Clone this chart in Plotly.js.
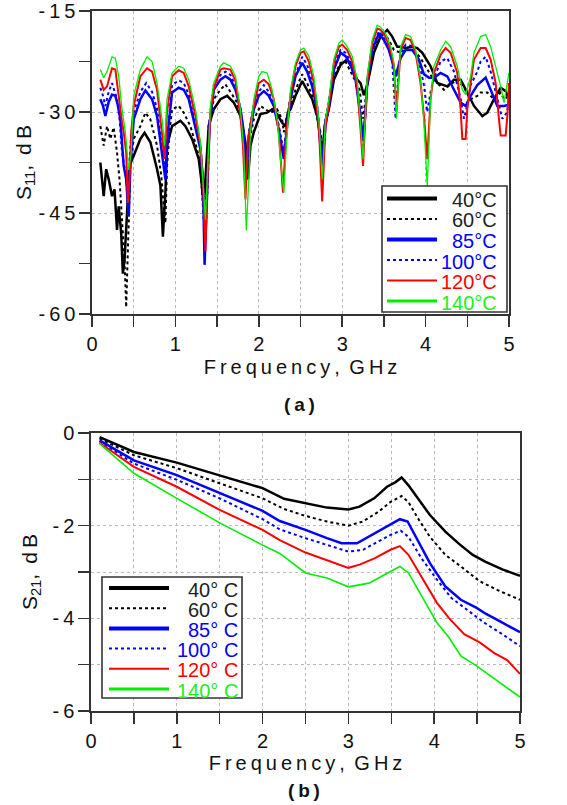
<!DOCTYPE html>
<html><head><meta charset="utf-8">
<script src="https://cdn.plot.ly/plotly-3.0.1.min.js"></script>
<style>html,body{margin:0;padding:0;background:#fff}#chart{width:567px;height:805px}</style>
</head><body><div id="chart"></div>
<script>
// ---------- DATA ----------
const temps = ['40°C','60°C','85°C','100°C','120°C','140°C'];
const tempsB = ['40° C','60° C','85° C','100° C','120° C','140° C'];

// S11 (dB) vs frequency (GHz), [f, dB] pairs
const s11_40 = [[0.10,-37.5],[0.12,-40],[0.14,-42.5],[0.17,-38.5],[0.20,-40],[0.24,-42.5],[0.27,-41.5],[0.30,-47.5],[0.32,-44],[0.35,-48],[0.37,-54],[0.39,-52],[0.42,-44],[0.45,-38],[0.50,-36.5],[0.58,-34],[0.63,-33.1],[0.70,-34.5],[0.78,-38.5],[0.82,-40.9],[0.85,-48.5],[0.88,-42],[0.90,-35],[0.96,-32.1],[1.06,-31.3],[1.12,-32.1],[1.20,-34],[1.28,-37],[1.31,-40],[1.34,-44],[1.37,-38],[1.40,-32],[1.46,-29.6],[1.54,-28.1],[1.62,-27.6],[1.70,-28.6],[1.78,-30.6],[1.84,-34.5],[1.87,-40],[1.90,-35],[1.94,-33],[2.02,-30.3],[2.10,-30.1],[2.16,-29.6],[2.22,-30.3],[2.28,-31.6],[2.32,-32.1],[2.35,-30],[2.38,-29.6],[2.44,-27.6],[2.52,-25.4],[2.58,-26.7],[2.64,-28.1],[2.70,-30.6],[2.73,-33],[2.76,-37],[2.79,-32],[2.84,-29.6],[2.90,-25.2],[2.98,-23],[3.06,-22.2],[3.12,-23.5],[3.18,-25.2],[3.22,-25.7],[3.26,-27.5],[3.30,-26],[3.38,-21.2],[3.46,-18.8],[3.54,-17.8],[3.60,-18.8],[3.66,-20.3],[3.70,-20.3],[3.76,-20.5],[3.84,-20.3],[3.90,-20.5],[3.96,-21.2],[4.06,-23.2],[4.14,-25.7],[4.20,-25.9],[4.26,-26.2],[4.34,-25.2],[4.42,-25.2],[4.50,-27.1],[4.58,-29.1],[4.68,-30.6],[4.74,-30.1],[4.82,-28.1],[4.90,-26.4],[4.96,-26.9],[5.00,-28.1]];
const s11_60 = [[0.10,-32.1],[0.14,-35],[0.18,-32.1],[0.22,-34],[0.26,-32.3],[0.30,-36],[0.33,-40],[0.36,-46],[0.39,-52],[0.41,-59],[0.43,-50],[0.46,-38],[0.50,-34],[0.58,-32.1],[0.64,-30.1],[0.70,-31.1],[0.78,-35],[0.83,-39.4],[0.86,-44],[0.88,-46.5],[0.90,-38],[0.93,-33],[0.96,-29.6],[1.04,-29.1],[1.10,-30.1],[1.18,-32.1],[1.26,-35.5],[1.30,-38],[1.34,-46],[1.37,-40],[1.40,-32],[1.46,-28.1],[1.54,-26.7],[1.60,-25.9],[1.68,-27.4],[1.74,-28.6],[1.80,-31.6],[1.83,-35],[1.86,-39],[1.89,-34],[1.94,-31.1],[2.02,-29.1],[2.08,-29.6],[2.14,-30.1],[2.22,-29.6],[2.28,-31.1],[2.30,-33],[2.33,-31],[2.38,-29.1],[2.44,-26.7],[2.52,-24.4],[2.58,-25.7],[2.64,-27.6],[2.70,-30.6],[2.74,-33],[2.77,-36],[2.80,-31],[2.84,-29.1],[2.90,-24.7],[2.98,-22.7],[3.04,-22.5],[3.10,-24],[3.16,-25.5],[3.21,-26.7],[3.25,-31],[3.28,-28],[3.30,-26.2],[3.36,-21.7],[3.44,-18.8],[3.50,-18.3],[3.56,-19.3],[3.62,-20.8],[3.70,-21.2],[3.76,-20.8],[3.86,-20.8],[3.94,-22],[4.02,-23.7],[4.08,-24.9],[4.14,-25.7],[4.22,-26.7],[4.30,-25.9],[4.38,-25.2],[4.46,-26.4],[4.54,-28.1],[4.62,-27.6],[4.66,-27.1],[4.74,-27.1],[4.82,-28.1],[4.90,-27.1],[4.94,-28.1],[5.00,-27.6]];
const s11_85 = [[0.10,-28.1],[0.13,-29],[0.16,-30.6],[0.20,-28.5],[0.24,-27.4],[0.28,-27.6],[0.31,-29],[0.34,-31.1],[0.38,-38],[0.41,-40],[0.44,-45.5],[0.46,-38],[0.50,-31.1],[0.58,-28.1],[0.64,-26.8],[0.72,-28.1],[0.78,-30.6],[0.84,-36],[0.88,-40],[0.91,-33],[0.96,-27.1],[1.04,-26.4],[1.10,-26.7],[1.16,-28.1],[1.24,-32.1],[1.30,-35.5],[1.33,-40],[1.35,-52.7],[1.38,-42],[1.41,-32],[1.46,-26.7],[1.54,-25.2],[1.60,-24.7],[1.66,-25.2],[1.72,-26.7],[1.78,-29.6],[1.82,-33],[1.85,-39],[1.88,-34],[1.94,-29.6],[2.00,-27.6],[2.06,-26.9],[2.12,-27.6],[2.18,-29.1],[2.24,-32.6],[2.30,-37],[2.34,-32],[2.38,-28.1],[2.44,-24.7],[2.52,-22.7],[2.58,-24],[2.64,-26.2],[2.70,-29.6],[2.76,-38],[2.80,-32],[2.84,-29.1],[2.90,-23.7],[2.98,-21.2],[3.04,-21.7],[3.10,-23],[3.16,-25.2],[3.21,-29.6],[3.25,-34],[3.28,-30],[3.30,-25.7],[3.36,-20.8],[3.44,-18.3],[3.50,-19.3],[3.56,-20.8],[3.60,-22.5],[3.64,-24.7],[3.68,-22.7],[3.70,-22],[3.76,-20.8],[3.84,-20.8],[3.92,-22.2],[3.98,-24.4],[4.04,-24.9],[4.10,-24.9],[4.18,-24.2],[4.26,-24.7],[4.34,-26.7],[4.42,-28.6],[4.48,-29.1],[4.54,-27.6],[4.62,-26],[4.66,-25.5],[4.72,-24.9],[4.78,-26.7],[4.86,-29.1],[4.94,-29.1],[5.00,-28.9]];
const s11_100 = [[0.10,-26.4],[0.13,-27.5],[0.16,-29.1],[0.20,-27],[0.24,-25.7],[0.30,-28.1],[0.33,-31],[0.36,-36],[0.40,-39],[0.43,-42],[0.46,-35],[0.50,-30],[0.58,-27],[0.65,-25.7],[0.72,-27],[0.78,-29.5],[0.84,-35],[0.88,-39],[0.91,-33],[0.96,-26],[1.04,-25.3],[1.10,-25.7],[1.16,-27.4],[1.24,-31.5],[1.30,-35],[1.33,-40],[1.36,-49],[1.39,-40],[1.41,-31],[1.46,-26],[1.54,-24.5],[1.60,-24],[1.66,-24.5],[1.72,-26.2],[1.78,-29.5],[1.82,-33],[1.85,-40],[1.88,-33],[1.94,-29],[2.00,-27],[2.06,-26],[2.12,-27],[2.18,-29],[2.24,-32],[2.30,-36],[2.34,-31],[2.38,-27.5],[2.44,-24.5],[2.52,-21.8],[2.58,-23],[2.64,-25.5],[2.70,-29],[2.76,-37],[2.80,-31],[2.84,-28.5],[2.90,-23],[2.98,-20.8],[3.04,-21.2],[3.10,-22.5],[3.16,-25],[3.21,-29.5],[3.25,-35],[3.28,-30],[3.30,-25],[3.36,-20.5],[3.44,-18],[3.50,-19],[3.56,-20.5],[3.60,-22.5],[3.64,-31],[3.68,-23],[3.70,-21.5],[3.76,-20],[3.84,-20.2],[3.92,-22.5],[3.98,-26],[4.02,-30],[4.06,-27],[4.10,-25],[4.18,-22.5],[4.26,-22],[4.34,-24],[4.42,-28],[4.46,-31],[4.50,-29],[4.54,-26],[4.62,-24],[4.66,-22.5],[4.72,-21.8],[4.78,-24],[4.86,-28],[4.92,-31],[4.98,-30],[5.00,-27]];
const s11_120 = [[0.10,-25.2],[0.14,-26.7],[0.18,-26.2],[0.24,-23.5],[0.28,-23.7],[0.32,-28.1],[0.36,-31.5],[0.38,-33],[0.41,-36],[0.43,-43.5],[0.45,-40],[0.47,-33],[0.50,-29.1],[0.58,-24.7],[0.66,-23.5],[0.72,-24],[0.78,-26.7],[0.83,-32.1],[0.87,-37],[0.90,-30],[0.96,-24.7],[1.04,-23.8],[1.10,-24.2],[1.16,-26.2],[1.24,-30.6],[1.30,-35],[1.33,-40],[1.36,-50.7],[1.39,-38],[1.42,-30],[1.46,-26.5],[1.54,-23.7],[1.58,-23.5],[1.66,-23.7],[1.72,-25.4],[1.78,-30.6],[1.81,-35],[1.84,-43],[1.87,-34],[1.94,-29.1],[2.00,-25.7],[2.06,-25.2],[2.12,-25.9],[2.18,-28.1],[2.24,-33],[2.29,-42],[2.33,-33],[2.38,-27.5],[2.44,-23.2],[2.50,-21.2],[2.54,-21],[2.60,-22.5],[2.66,-25.7],[2.72,-32],[2.76,-43.3],[2.80,-32],[2.84,-29],[2.90,-22.7],[2.96,-20.3],[3.00,-20],[3.06,-20.8],[3.12,-22.5],[3.18,-26.2],[3.22,-32.6],[3.25,-38],[3.28,-30],[3.30,-25.5],[3.36,-19.8],[3.42,-17.6],[3.46,-17.8],[3.52,-18.8],[3.58,-20.8],[3.62,-23.2],[3.65,-30],[3.68,-24],[3.70,-20.8],[3.76,-19],[3.82,-19.3],[3.88,-21.2],[3.94,-25.7],[3.98,-30.6],[4.02,-37],[4.06,-28],[4.10,-24.2],[4.18,-21.5],[4.24,-20.5],[4.30,-21.2],[4.38,-24.2],[4.42,-29.6],[4.44,-34],[4.48,-34],[4.50,-29.6],[4.54,-25.7],[4.58,-22.2],[4.66,-20.5],[4.72,-20.5],[4.78,-22.2],[4.84,-25.7],[4.88,-31.1],[4.90,-33.5],[4.96,-33.5],[4.98,-30.6],[5.00,-25.7]];
const s11_140 = [[0.10,-23.7],[0.14,-24.9],[0.18,-24],[0.24,-21.8],[0.28,-22],[0.32,-24.7],[0.36,-29.6],[0.40,-33],[0.44,-38.6],[0.47,-36],[0.50,-27.6],[0.58,-23.7],[0.66,-21.8],[0.72,-22.5],[0.78,-25.7],[0.84,-31.1],[0.87,-35],[0.90,-28.1],[0.96,-24.2],[1.04,-23.2],[1.10,-23.5],[1.16,-25.2],[1.24,-29.6],[1.30,-34.5],[1.36,-46],[1.39,-36],[1.42,-29],[1.46,-25.7],[1.54,-23.2],[1.58,-22.7],[1.66,-23.2],[1.72,-24.7],[1.78,-29.6],[1.82,-35.5],[1.85,-47.6],[1.88,-40],[1.90,-33],[1.94,-28.1],[2.00,-24.7],[2.04,-24],[2.10,-24.2],[2.16,-26.7],[2.22,-31.1],[2.26,-37],[2.30,-42],[2.33,-35],[2.38,-26.7],[2.44,-22.7],[2.50,-20.8],[2.54,-20.5],[2.60,-21.7],[2.66,-24.7],[2.72,-31.1],[2.76,-40],[2.80,-31],[2.84,-28.1],[2.90,-22.2],[2.96,-19.8],[3.00,-19.3],[3.06,-20.3],[3.12,-21.7],[3.18,-25.2],[3.22,-32.1],[3.25,-37],[3.28,-30],[3.30,-24.7],[3.36,-19.3],[3.42,-17.1],[3.46,-17.4],[3.52,-18.3],[3.58,-20.3],[3.62,-22.7],[3.65,-31],[3.68,-24],[3.70,-20.3],[3.76,-18.5],[3.82,-18.8],[3.88,-20.8],[3.94,-25.2],[3.98,-31.6],[4.02,-41],[4.06,-28.1],[4.10,-23.2],[4.18,-20.8],[4.24,-19.5],[4.30,-20.3],[4.38,-23.2],[4.44,-26.7],[4.48,-27.4],[4.54,-24.7],[4.58,-21.2],[4.66,-18.8],[4.72,-18.5],[4.78,-20.3],[4.84,-23.2],[4.90,-26.2],[4.94,-28.6],[4.98,-25.7],[5.00,-24.2]];

// S21 (dB) vs frequency (GHz)
const s21_40 = [[0.10,-0.09],[0.5,-0.41],[1.0,-0.64],[1.5,-0.91],[2.0,-1.19],[2.25,-1.42],[2.5,-1.51],[2.75,-1.61],[3.0,-1.65],[3.13,-1.59],[3.3,-1.41],[3.45,-1.16],[3.55,-1.06],[3.62,-0.96],[3.7,-1.13],[3.85,-1.52],[3.95,-1.77],[4.13,-2.13],[4.3,-2.41],[4.45,-2.63],[4.6,-2.78],[4.8,-2.95],[5.0,-3.08]];
const s21_60 = [[0.10,-0.12],[0.5,-0.48],[1.0,-0.76],[1.5,-1.09],[2.0,-1.41],[2.25,-1.64],[2.5,-1.79],[2.75,-1.91],[3.0,-2.0],[3.17,-1.91],[3.35,-1.70],[3.49,-1.49],[3.62,-1.36],[3.7,-1.49],[3.81,-1.84],[3.95,-2.24],[4.13,-2.63],[4.31,-2.88],[4.53,-3.2],[4.75,-3.4],[5.0,-3.6]];
const s21_85 = [[0.10,-0.16],[0.5,-0.59],[1.0,-0.91],[1.5,-1.30],[2.0,-1.68],[2.2,-1.9],[2.5,-2.09],[2.75,-2.27],[2.92,-2.38],[3.1,-2.38],[3.31,-2.16],[3.49,-1.99],[3.6,-1.86],[3.69,-1.91],[3.81,-2.34],[3.95,-2.81],[4.13,-3.31],[4.31,-3.6],[4.49,-3.77],[4.6,-3.9],[4.8,-4.1],[5.0,-4.3]];
const s21_100 = [[0.10,-0.18],[0.5,-0.66],[1.0,-1.01],[1.5,-1.41],[2.0,-1.86],[2.2,-2.08],[2.5,-2.27],[2.75,-2.41],[3.0,-2.56],[3.17,-2.52],[3.35,-2.34],[3.49,-2.2],[3.61,-2.11],[3.7,-2.24],[3.85,-2.7],[4.03,-3.16],[4.2,-3.56],[4.38,-3.81],[4.58,-4.09],[4.8,-4.35],[5.0,-4.6]];
const s21_120 = [[0.10,-0.21],[0.5,-0.73],[1.0,-1.16],[1.5,-1.66],[2.0,-2.09],[2.2,-2.31],[2.5,-2.58],[2.75,-2.74],[3.0,-2.91],[3.13,-2.84],[3.31,-2.7],[3.49,-2.52],[3.6,-2.44],[3.7,-2.63],[3.85,-3.09],[4.03,-3.66],[4.17,-3.99],[4.35,-4.34],[4.53,-4.52],[4.7,-4.75],[4.85,-4.9],[5.0,-5.2]];
const s21_140 = [[0.10,-0.23],[0.5,-0.87],[1.0,-1.41],[1.5,-1.94],[2.0,-2.42],[2.2,-2.6],[2.5,-3.02],[2.75,-3.13],[3.0,-3.32],[3.24,-3.24],[3.42,-3.06],[3.53,-2.95],[3.6,-2.88],[3.7,-3.02],[3.85,-3.52],[4.03,-4.09],[4.17,-4.41],[4.31,-4.81],[4.49,-5.02],[4.7,-5.3],[4.85,-5.5],[5.0,-5.7]];

const xTicks = [0,1,2,3,4,5];
const xHalfTicks = [0.5,1.5,2.5,3.5,4.5];
const s11Ticks = [-60,-45,-30,-15];
const s11MinorTicks = [-52.5,-37.5,-22.5];
const s21Ticks = [-6,-4,-2,0];
const s21OddTicks = [-5,-3,-1];
const s21HalfTicks = [-5.5,-4.5,-3.5,-2.5,-1.5,-0.5];

// ---------- STYLE ----------
const s11 = [s11_40,s11_60,s11_85,s11_100,s11_120,s11_140];
const s21 = [s21_40,s21_60,s21_85,s21_100,s21_120,s21_140];
const colors = ['#000000','#000000','#0000ff','#0000ff','#ff0000','#00ee00'];
const textColors = ['#222222','#222222','#0000ff','#0000ff','#ff0000','#22ee22'];
const dashes = ['solid','dot','solid','dot','solid','solid'];
const widthsTop = [2.5,2,2.5,2,2,1.3];
const widthsBot = [2.5,2,2.5,2,2,1.6];
const legWidths = [4,2,4,2,2,3];

const W = 567, H = 805;
const px = v => v / W, py = v => 1 - v / H;
const FONT = 'Liberation Sans, Arial, sans-serif';
const thin = s => s.split('').join('\u2009');

const traces = [];
s11.forEach((ser, i) => traces.push({
  x: ser.map(p => p[0]), y: ser.map(p => p[1]), xaxis: 'x', yaxis: 'y',
  type: 'scatter', mode: 'lines', name: temps[i], showlegend: false, hoverinfo: 'skip',
  line: {color: colors[i], width: widthsTop[i], dash: dashes[i]}
}));
s21.forEach((ser, i) => traces.push({
  x: ser.map(p => p[0]), y: ser.map(p => p[1]), xaxis: 'x2', yaxis: 'y2',
  type: 'scatter', mode: 'lines', name: temps[i], showlegend: false, hoverinfo: 'skip',
  line: {color: colors[i], width: widthsBot[i], dash: dashes[i]}
}));

const tickStyle = {ticks: 'outside', ticklen: 11, tickwidth: 1.5, tickcolor: '#333'};
const gridStyle = {showgrid: true, gridcolor: '#b8b8b8', griddash: 'dot', gridwidth: 1};
const axBase = Object.assign({
  showline: true, linecolor: '#333', linewidth: 1.6, mirror: true,
  tickfont: {family: FONT, size: 20, color: '#111'},
  zeroline: false, fixedrange: true, automargin: false
}, tickStyle, gridStyle);
const xMinor = Object.assign({tickvals: xHalfTicks}, tickStyle, gridStyle);
const xTitleText = thin('Frequency,') + '\u2009 ' + thin('GHz');
const xTitleFont = {family: FONT, size: 20, color: '#111'};

const layout = {
  width: W, height: H, margin: {l: 0, r: 0, t: 0, b: 0},
  paper_bgcolor: '#fff', plot_bgcolor: '#fff', showlegend: false,
  xaxis: Object.assign({}, axBase, {domain: [px(92), px(509)], anchor: 'y', range: [0, 5],
    tickmode: 'array', tickvals: xTicks, ticktext: xTicks.map(String), minor: xMinor,
    title: {text: xTitleText, font: xTitleFont, standoff: 6}}),
  yaxis: Object.assign({}, axBase, {domain: [py(314), py(11)], anchor: 'x', range: [-60, -15],
    tickmode: 'array', tickvals: s11Ticks, ticktext: s11Ticks.map(v => thin(String(v))),
    minor: Object.assign({tickvals: s11MinorTicks, showgrid: false}, tickStyle),
    title: {text: 'S<sub>11</sub>,\u2009 d\u2009B', font: {family: FONT, size: 21, color: '#111'}, standoff: 1}}),
  xaxis2: Object.assign({}, axBase, {domain: [px(91), px(520)], anchor: 'y2', range: [0, 5],
    tickmode: 'array', tickvals: xTicks, ticktext: xTicks.map(String), minor: xMinor,
    title: {text: xTitleText, font: xTitleFont, standoff: 0}}),
  yaxis2: Object.assign({}, axBase, {domain: [py(711), py(433)], anchor: 'x2', range: [-6, 0],
    tickmode: 'array', tickvals: s21Ticks, ticktext: s21Ticks.map(v => thin(String(v))),
    minor: Object.assign({tickvals: s21OddTicks}, tickStyle, gridStyle),
    title: {text: 'S<sub>21</sub>,\u2009 d\u2009B', font: {family: FONT, size: 21, color: '#111'}, standoff: 9}}),
  // extra half-step ticks on the S21 axis (no labels)
  yaxis3: Object.assign({overlaying: 'y2', anchor: 'x2', side: 'left', range: [-6, 0],
    tickmode: 'array', tickvals: s21HalfTicks, showticklabels: false, showgrid: false,
    showline: false, zeroline: false, fixedrange: true}, tickStyle),
  shapes: [], annotations: []
};

// legends (box, sample line, coloured label)
function addLegend(box, lineX0, lineX1, row0, rowStep, textRight, labels) {
  layout.shapes.push({type: 'rect', xref: 'paper', yref: 'paper', layer: 'above',
    x0: px(box[0]), x1: px(box[1]), y0: py(box[3]), y1: py(box[2]),
    fillcolor: '#fff', line: {color: '#333', width: 1.6}});
  labels.forEach((lab, i) => {
    const yy = row0 + i * rowStep;
    layout.shapes.push({type: 'line', xref: 'paper', yref: 'paper', layer: 'above',
      x0: px(lineX0), x1: px(lineX1), y0: py(yy), y1: py(yy),
      line: {color: colors[i], width: legWidths[i], dash: dashes[i]}});
    layout.annotations.push({xref: 'paper', yref: 'paper', x: px(textRight), y: py(yy + 1.5),
      xanchor: 'right', yanchor: 'middle', showarrow: false, text: lab,
      font: {family: FONT, size: 20, color: textColors[i]}});
  });
}
addLegend([382, 507, 186, 312], 387, 437, 198.5, 20.5, 499, temps);
addLegend([102, 242, 577, 698], 109, 169, 588, 20.2, 240, tempsB);

layout.annotations.push({xref: 'paper', yref: 'paper', x: px(299), y: py(404), xanchor: 'center', yanchor: 'middle',
  showarrow: false, text: '<b>(\u2009a\u2009)</b>', font: {family: FONT, size: 19, color: '#111'}});
layout.annotations.push({xref: 'paper', yref: 'paper', x: px(304), y: py(790), xanchor: 'center', yanchor: 'middle',
  showarrow: false, text: '<b>(\u2009b\u2009)</b>', font: {family: FONT, size: 19, color: '#111'}});

Plotly.newPlot('chart', traces, layout, {staticPlot: true, displayModeBar: false});
</script></body></html>
